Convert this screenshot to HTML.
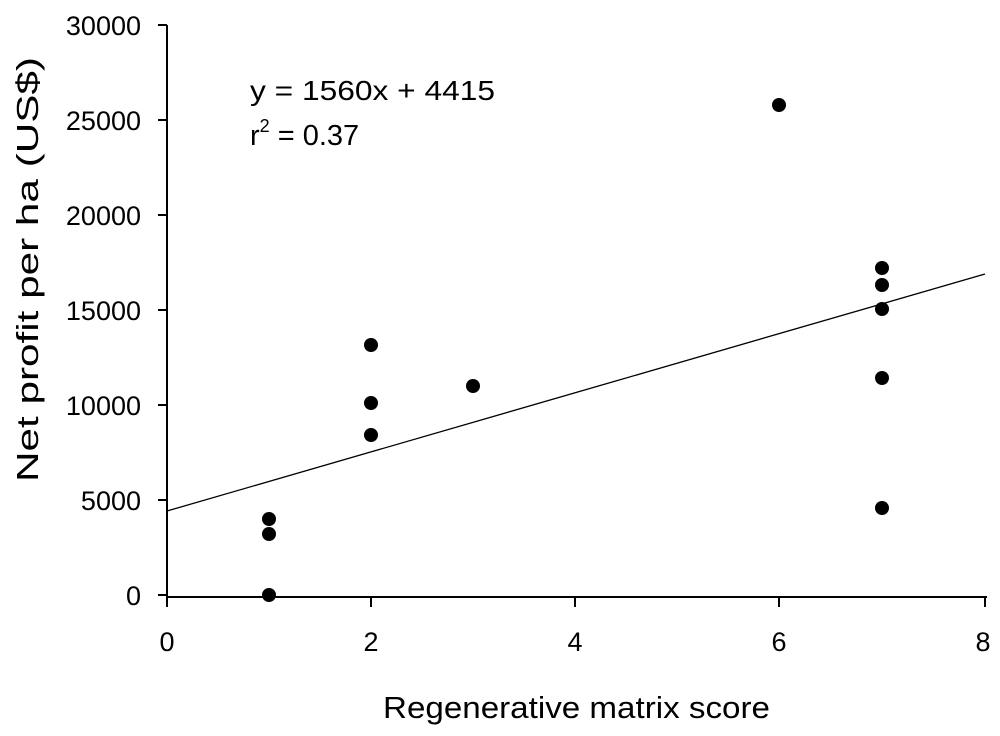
<!DOCTYPE html>
<html><head><style>body{margin:0;background:#fff}</style></head><body>
<svg width="1000" height="731" xmlns="http://www.w3.org/2000/svg" font-family="Liberation Sans, sans-serif">
<rect width="1000" height="731" fill="#fff"/>
<g stroke="#000" stroke-width="2">
<line x1="167" y1="25" x2="167" y2="607"/>
<line x1="167" y1="597" x2="987" y2="597"/>
<line x1="158" y1="25" x2="167" y2="25"/>
<line x1="158" y1="120" x2="167" y2="120"/>
<line x1="158" y1="215" x2="167" y2="215"/>
<line x1="158" y1="310" x2="167" y2="310"/>
<line x1="158" y1="405" x2="167" y2="405"/>
<line x1="158" y1="500" x2="167" y2="500"/>
<line x1="158" y1="595" x2="167" y2="595"/>
<line x1="371" y1="597" x2="371" y2="607"/>
<line x1="575" y1="597" x2="575" y2="607"/>
<line x1="779" y1="597" x2="779" y2="607"/>
<line x1="985" y1="597" x2="985" y2="607"/>
</g>
<line x1="167" y1="511" x2="985" y2="274" stroke="#000" stroke-width="1.3"/>
<g font-size="27" text-anchor="end" fill="#000">
<text x="141" y="35">30000</text><text x="141" y="130">25000</text><text x="141" y="225">20000</text>
<text x="141" y="320">15000</text><text x="141" y="415">10000</text><text x="141" y="510">5000</text><text x="141" y="605">0</text>
</g>
<g font-size="27" text-anchor="middle" fill="#000">
<text x="167" y="651">0</text><text x="371" y="651">2</text><text x="575" y="651">4</text><text x="779" y="651">6</text><text x="983" y="651">8</text>
</g>
<text x="383" y="718" font-size="31" textLength="387" lengthAdjust="spacingAndGlyphs">Regenerative matrix score</text>
<text transform="translate(38,482) rotate(-90)" font-size="31" textLength="425" lengthAdjust="spacingAndGlyphs">Net profit per ha (US$)</text>
<text x="250" y="100" font-size="28" textLength="245" lengthAdjust="spacingAndGlyphs">y = 1560x + 4415</text>
<text x="250" y="145" font-size="29">r<tspan font-size="18" dy="-13">2</tspan><tspan dy="13"> = 0.37</tspan></text>
<g fill="#000">
<circle cx="269" cy="595" r="7"/><circle cx="269" cy="534" r="7"/><circle cx="269" cy="519" r="7"/>
<circle cx="371" cy="435" r="7"/><circle cx="371" cy="403" r="7"/><circle cx="371" cy="345" r="7"/>
<circle cx="473" cy="386" r="7"/><circle cx="779" cy="105" r="7"/>
<circle cx="882" cy="268" r="7"/><circle cx="882" cy="285" r="7"/><circle cx="882" cy="309" r="7"/>
<circle cx="882" cy="378" r="7"/><circle cx="882" cy="508" r="7"/>
</g>
</svg>
</body></html>
